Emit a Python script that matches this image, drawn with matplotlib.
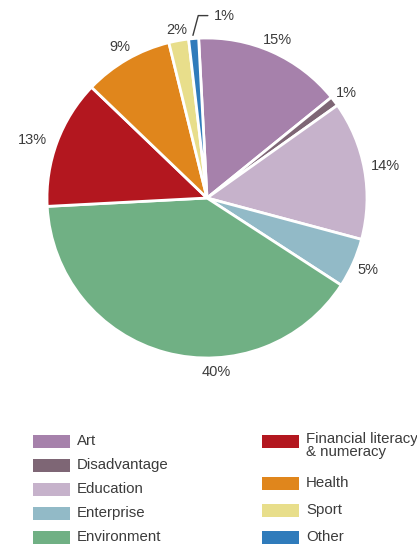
import numpy as np
import matplotlib
matplotlib.use("Agg")
import matplotlib.pyplot as plt
import matplotlib.patches as patches

categories = ["Art", "Disadvantage", "Education", "Enterprise", "Environment",
              "Financial literacy\n& numeracy", "Health", "Sport", "Other"]
shares = [15, 1, 14, 5, 40, 13, 9, 2, 1]
colors = ["#A681AB", "#7E6675", "#C6B2CB", "#92BAC7", "#70B084",
          "#B3171F", "#E0861C", "#E8DE8B", "#2F7BBB"]

W, H = 417, 546
DPI = 100
text_color = "#3C3C3C"
plt.rcParams["font.family"] = ["Liberation Sans", "DejaVu Sans"]

fig = plt.figure(figsize=(W / DPI, H / DPI), dpi=DPI)

# pie occupies a square of 320 px centred at (207, 198) from the top-left
cx, cy, r = 207, 198, 160
ax = fig.add_axes([(cx - r) / W, (H - cy - r) / H, 2 * r / W, 2 * r / H])
start = 93
wedges, _ = ax.pie(shares, colors=colors, startangle=start, counterclock=False,
                   radius=1, wedgeprops=dict(edgecolor="white", linewidth=2))
ax.set_xlim(-1, 1)
ax.set_ylim(-1, 1)
ax.set_aspect("equal")
ax.axis("off")

# label placement: radial distance per slice, plus angle nudges
label_dist = [1.08, 1.09, 1.13, 1.10, 1.09, 1.15, 1.09, 1.07, 1.0]
label_shift = {"Environment": 18, "Financial literacy\n& numeracy": 2}

total = sum(shares)
cum = 0
for i, v in enumerate(shares):
    mid = start - (cum + v / 2) / total * 360
    cum += v
    mid += label_shift.get(categories[i], 0)
    a = np.deg2rad(mid)
    lbl = f"{v}%"
    if categories[i] == "Other":
        x0, y0 = 0.99 * np.cos(a), 0.99 * np.sin(a)
        ax.annotate(lbl, xy=(x0 - 0.005, y0 + 0.03), xytext=(0.04, 1.14),
                    fontsize=10.5, color=text_color, ha="left", va="center",
                    annotation_clip=False,
                    arrowprops=dict(arrowstyle="-", color=text_color, lw=1,
                                    connectionstyle="angle,angleA=0,angleB=75,rad=0",
                                    shrinkA=2, shrinkB=0))
        continue
    d = label_dist[i]
    ax.text(d * np.cos(a), d * np.sin(a), lbl, fontsize=10.5, color=text_color,
            ha="center", va="center", clip_on=False)

# legend drawn in pixel coordinates across the bottom of the figure
lg = fig.add_axes([0, 0, 1, 1], zorder=-1)
lg.set_xlim(0, W)
lg.set_ylim(H, 0)
lg.axis("off")
left_rows = [441, 465, 489, 513, 537]
right_rows = [441, 483, 510, 537]
for i, name in enumerate(categories):
    if i < 5:
        x, y = 33, left_rows[i]
    else:
        x, y = 262, right_rows[i - 5]
    lg.add_patch(patches.Rectangle((x, y - 6.5), 37, 13, facecolor=colors[i],
                                   edgecolor="none"))
    va = "top" if "\n" in name else "center"
    ty = y - 9 if "\n" in name else y
    lg.text(x + 44, ty, name, fontsize=10.8, color=text_color, va=va, ha="left",
            linespacing=0.9)

fig.savefig("out.png", dpi=DPI, facecolor="white")
